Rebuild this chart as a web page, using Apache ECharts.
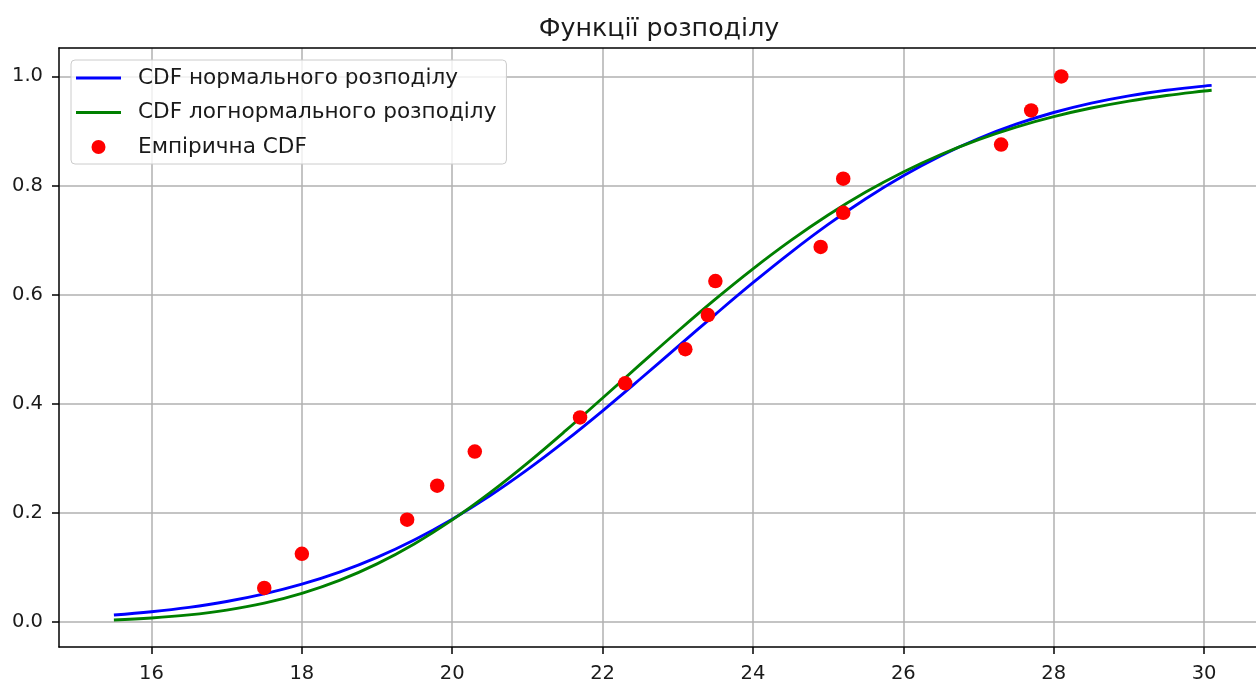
<!DOCTYPE html>
<html>
<head>
<meta charset="utf-8">
<script src="https://cdn.jsdelivr.net/npm/echarts@6/dist/echarts.min.js"></script>
<style>
html,body{margin:0;padding:0;background:#fff;}
#chart{width:1256px;height:684px;}
</style>
</head>
<body>
<div id="chart"></div>
<script>
// ---- data ----
const titleText = 'Функції розподілу';
const seriesNames = ['CDF нормального розподілу', 'CDF логнормального розподілу', 'Емпірична CDF'];

const curveX = [15.5, 16, 16.5, 17, 17.5, 18, 18.5, 19, 19.5, 20, 20.5, 21, 21.5, 22, 22.5, 23,
  23.5, 24, 24.5, 25, 25.5, 26, 26.5, 27, 27.5, 28, 28.5, 29, 29.5, 30, 30.1];
const normalCdf = [0.0130, 0.0189, 0.0269, 0.0376, 0.0516, 0.0694, 0.0915, 0.1186, 0.1509, 0.1885,
  0.2314, 0.2793, 0.3315, 0.3872, 0.4454, 0.5048, 0.5640, 0.6219, 0.6771, 0.7287, 0.7758, 0.8179,
  0.8547, 0.8861, 0.9123, 0.9338, 0.9509, 0.9643, 0.9745, 0.9822, 0.9835];
const lognormCdf = [0.0039, 0.0074, 0.0131, 0.0219, 0.0347, 0.0527, 0.0764, 0.1067, 0.1437, 0.1873,
  0.2368, 0.2914, 0.3498, 0.4106, 0.4721, 0.5329, 0.5917, 0.6473, 0.6989, 0.7459, 0.7879, 0.8248,
  0.8569, 0.8842, 0.9072, 0.9263, 0.9420, 0.9547, 0.9649, 0.9731, 0.9745];

const empX = [17.5, 18.0, 19.4, 19.8, 20.3, 21.7, 22.3, 23.1, 23.4, 23.5, 24.9, 25.2, 25.2, 27.3, 27.7, 28.1];
const empY = [0.0625, 0.125, 0.1875, 0.25, 0.3125, 0.375, 0.4375, 0.5, 0.5625, 0.625, 0.6875, 0.75, 0.8125, 0.875, 0.9375, 1.0];

const xTicks = [16, 18, 20, 22, 24, 26, 28, 30];
const yTicks = [0.0, 0.2, 0.4, 0.6, 0.8, 1.0];
// visible window (the reference is cropped on the right)
const xRange = [14.77, 30.69];
const yRange = [-0.0457, 1.052];

// ---- chart ----
const FONT = 'DejaVu Sans';
const TEXT = '#1a1a1a';
const chart = echarts.init(document.getElementById('chart'), null, {renderer: 'canvas'});

const normalData = curveX.map((x, i) => [x, normalCdf[i]]);
const lognormData = curveX.map((x, i) => [x, lognormCdf[i]]);
const empData = empX.map((x, i) => [x, empY[i]]);

const spine = {show: true, onZero: false, lineStyle: {color: '#000', width: 1.5}};
const tick = {show: true, inside: false, length: 7, lineStyle: {color: '#000', width: 1.5}};
const grid = {show: true, lineStyle: {color: '#b0b0b0', width: 1.5}};
const lineIcon = 'path://M0,0 L45,0 L45,3 L0,3 Z';

chart.setOption({
  animation: false,
  backgroundColor: '#fff',
  title: {
    text: titleText,
    left: 654,
    top: 12,
    textAlign: 'center',
    textStyle: {fontFamily: FONT, fontSize: 25.3, fontWeight: 'normal', color: TEXT}
  },
  grid: {left: 59, top: 48, right: 0, bottom: 36, show: false},
  legend: {
    orient: 'vertical',
    left: 71, top: 60,
    padding: [7, 10, 6, 5],
    itemGap: 12.5,
    itemWidth: 45,
    itemHeight: 14,
    symbolKeepAspect: true,
    backgroundColor: 'rgba(255,255,255,0.8)',
    borderColor: '#cccccc',
    borderWidth: 1,
    borderRadius: 4,
    textStyle: {fontFamily: FONT, fontSize: 21.6, lineHeight: 20, color: TEXT, padding: [0, 0, 0, 12]},
    data: [
      {name: seriesNames[0], icon: lineIcon},
      {name: seriesNames[1], icon: lineIcon},
      {name: seriesNames[2], icon: 'circle'}
    ]
  },
  xAxis: [
    {
      type: 'value', position: 'bottom',
      min: xRange[0], max: xRange[1],
      axisLine: spine,
      axisTick: Object.assign({}, tick, {customValues: xTicks}),
      splitLine: Object.assign({}, grid, {customValues: xTicks}),
      axisLabel: {customValues: xTicks, margin: 17, fontFamily: FONT, fontSize: 19.5, color: TEXT,
        formatter: v => String(Math.round(v))}
    },
    {
      type: 'value', position: 'top',
      min: xRange[0], max: xRange[1],
      axisLine: spine,
      axisTick: {show: false}, axisLabel: {show: false}, splitLine: {show: false}
    }
  ],
  yAxis: {
    type: 'value',
    min: yRange[0], max: yRange[1],
    axisLine: spine,
    axisTick: Object.assign({}, tick, {customValues: yTicks}),
    splitLine: Object.assign({}, grid, {customValues: yTicks}),
    axisLabel: {customValues: yTicks, margin: 16, fontFamily: FONT, fontSize: 19.5, color: TEXT,
      formatter: v => v.toFixed(1)}
  },
  series: [
    {
      name: seriesNames[0], type: 'line', data: normalData, xAxisIndex: 0,
      symbol: 'none', smooth: 0.4,
      lineStyle: {color: '#0000ff', width: 2.9}, itemStyle: {color: '#0000ff'}, z: 3
    },
    {
      name: seriesNames[1], type: 'line', data: lognormData, xAxisIndex: 0,
      symbol: 'none', smooth: 0.4,
      lineStyle: {color: '#008000', width: 2.9}, itemStyle: {color: '#008000'}, z: 4
    },
    {
      name: seriesNames[2], type: 'scatter', data: empData, xAxisIndex: 0,
      symbol: 'circle', symbolSize: 14.5,
      itemStyle: {color: '#ff0000', opacity: 1}, z: 5
    }
  ]
});
</script>
</body>
</html>
